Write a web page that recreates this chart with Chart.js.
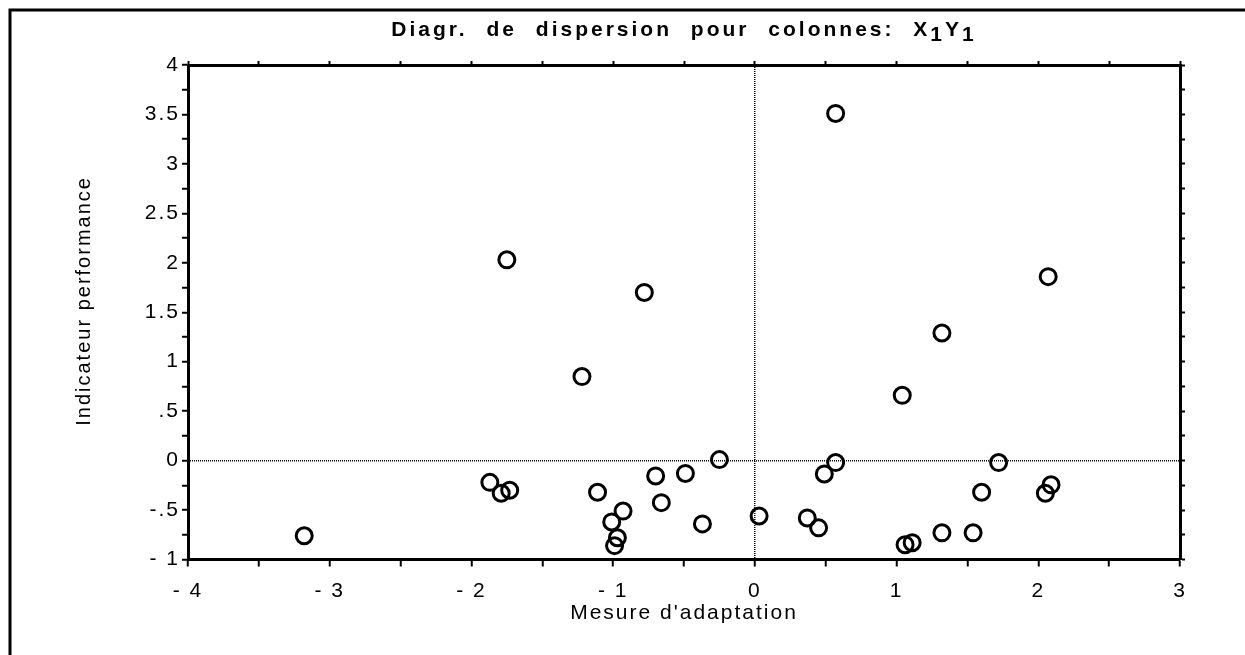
<!DOCTYPE html>
<html lang="fr">
<head>
  <meta charset="UTF-8" />
  <title>Diagr. de dispersion pour colonnes: X1Y1</title>
  <script src="https://cdn.jsdelivr.net/npm/chart.js"></script>
  <style>
    body { margin: 0; background: #fff; }
    canvas { display: block; }
  </style>
</head>
<body>
  <canvas id="chart" width="1245" height="655"></canvas>

  <script>
    // Mesure d'adaptation (x) / Indicateur performance (y)
    const adaptation = [-1.75, -0.78, -1.22, -3.18, -1.87, -1.79, -1.73, -1.11, -0.93, -1.01, -0.97, -0.99,
      -0.70, -0.66, -0.49, -0.37, -0.25, 0.57, 2.07, 1.32, 1.04, 0.57, 0.49, 0.03, 0.37, 0.45,
      1.06, 1.11, 1.32, 1.54, 1.60, 1.72, 2.05, 2.09];
    const performance = [2.03, 1.70, 0.85, -0.76, -0.22, -0.33, -0.30, -0.32, -0.51, -0.62, -0.78, -0.86,
      -0.155, -0.425, -0.13, -0.64, 0.01, 3.51, 1.86, 1.29, 0.66, -0.02, -0.135, -0.56, -0.58, -0.68,
      -0.85, -0.83, -0.73, -0.73, -0.32, -0.02, -0.33, -0.245];

    const xTickValues = [-4, -3, -2, -1, 0, 1, 2, 3];
    const xTickLabels = ['- 4', '- 3', '- 2', '- 1', '0', '1', '2', '3'];
    const yTickValues = [-1, -0.5, 0, 0.5, 1, 1.5, 2, 2.5, 3, 3.5, 4];
    const yTickLabels = ['- 1', '-.5', '0', '.5', '1', '1.5', '2', '2.5', '3', '3.5', '4'];

    const FONT = '"Liberation Sans", Arial, Helvetica, sans-serif';

    const points = adaptation.map((x, i) => ({ x: x, y: performance[i] }));

    function labelFor(values, labels) {
      return v => {
        const i = values.indexOf(v);
        return i < 0 ? '' : labels[i];
      };
    }

    // lignes pointillees seulement sur zero
    const zeroLine = c => (c.tick && c.tick.value === 0) ? '#000' : 'rgba(0,0,0,0)';

    // espacement des lettres comme sur l'original
    const spacing = {
      id: 'spacing',
      beforeUpdate(chart) { chart.ctx.letterSpacing = '2px'; },
      beforeDraw(chart) { chart.ctx.letterSpacing = '2px'; }
    };

    // cadre de la page + titre avec indices
    const frameTitle = {
      id: 'frameTitle',
      afterDraw(chart) {
        const ctx = chart.ctx;
        ctx.save();
        ctx.strokeStyle = '#000';
        ctx.lineWidth = 3;
        ctx.beginPath();
        ctx.moveTo(10, 655);
        ctx.lineTo(10, 10);
        ctx.lineTo(1245, 10);
        ctx.stroke();

        ctx.fillStyle = '#000';
        ctx.font = 'bold 21px ' + FONT;
        ctx.letterSpacing = '3px';
        ctx.wordSpacing = '10px';
        ctx.textAlign = 'left';
        ctx.textBaseline = 'alphabetic';
        const parts = [['Diagr. de dispersion pour colonnes: X', 0], ['1', 5], ['Y', 0], ['1', 5]];
        const total = parts.reduce((s, p) => s + ctx.measureText(p[0]).width, 0);
        const area = chart.chartArea;
        let x = (area.left + area.right) / 2 - total / 2;
        parts.forEach(p => {
          ctx.fillText(p[0], x, 36 + p[1]);
          x += ctx.measureText(p[0]).width;
        });
        ctx.restore();
      }
    };

    new Chart(document.getElementById('chart'), {
      type: 'scatter',
      data: {
        datasets: [{
          label: 'X1Y1',
          data: points,
          pointRadius: 8,
          pointHoverRadius: 8,
          borderWidth: 3,
          borderColor: '#000',
          backgroundColor: 'rgba(0,0,0,0)'
        }]
      },
      options: {
        responsive: false,
        animation: false,
        layout: { padding: 0 },
        plugins: {
          legend: { display: false },
          title: { display: false },
          tooltip: { enabled: false }
        },
        scales: {
          x: {
            type: 'linear', position: 'bottom', min: -4, max: 3,
            afterFit: s => { s.height = 95.5; },
            ticks: {
              stepSize: 0.5, autoSkip: false, maxRotation: 0, padding: 12,
              color: '#000', font: { family: FONT, size: 21 },
              callback: labelFor(xTickValues, xTickLabels)
            },
            grid: { color: zeroLine, lineWidth: 1.5, tickColor: '#000', tickWidth: 2, tickLength: 7 },
            border: { color: '#000', width: 3, dash: [1, 1] },
            title: {
              display: true, text: "Mesure d'adaptation", color: '#000',
              font: { family: FONT, size: 21 }, padding: { top: 0, bottom: 29 }
            }
          },
          xTop: {
            type: 'linear', position: 'top', min: -4, max: 3,
            afterFit: s => { s.height = 65; },
            ticks: { stepSize: 0.5, display: false },
            grid: { drawOnChartArea: false, tickColor: '#000', tickWidth: 2, tickLength: 4 },
            border: { color: '#000', width: 3 }
          },
          y: {
            type: 'linear', position: 'left', min: -1, max: 4,
            afterFit: s => { s.width = 188; },
            ticks: {
              stepSize: 0.25, autoSkip: false, padding: 2,
              color: '#000', font: { family: FONT, size: 21 },
              callback: labelFor(yTickValues, yTickLabels)
            },
            grid: { color: zeroLine, lineWidth: 1.5, tickColor: '#000', tickWidth: 2, tickLength: 6 },
            border: { color: '#000', width: 3, dash: [1, 1] },
            title: {
              display: true, text: '   Indicateur performance', color: '#000',
              font: { family: FONT, size: 20 }, padding: { top: 72, bottom: 0 }
            }
          },
          yRight: {
            type: 'linear', position: 'right', min: -1, max: 4,
            afterFit: s => { s.width = 65; },
            ticks: { stepSize: 0.25, display: false },
            grid: { drawOnChartArea: false, tickColor: '#000', tickWidth: 2, tickLength: 5 },
            border: { color: '#000', width: 3 }
          }
        }
      },
      plugins: [spacing, frameTitle]
    });
  </script>
</body>
</html>
